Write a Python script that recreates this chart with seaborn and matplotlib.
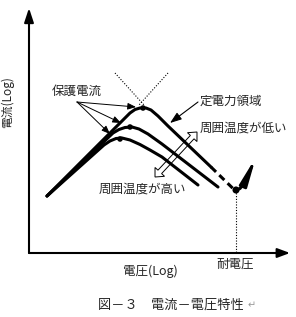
import numpy as np
import pandas as pd
import matplotlib
matplotlib.use("Agg")
import matplotlib.pyplot as plt
from matplotlib.patches import Polygon
import seaborn as sns

# I-V curves (x = log V, y = log I, arbitrary units)
top_x = [18, 101, 106, 111, 117, 122, 129, 139, 182]
top_y = [57, 140, 143.5, 145, 145, 143, 137, 127, 86]
mid_x = [18, 84, 90, 96, 103, 110, 119, 133, 189]
mid_y = [57, 120, 123.5, 125.5, 126, 124, 119, 109, 66]
low_x = [18, 75, 81, 87, 93, 101, 111, 121, 133, 169]
low_y = [57, 108, 112, 114.5, 115, 113, 108.5, 103, 96, 68]

# dashed part running into breakdown
brk_x = [182, 204, 207, 211, 217]
brk_y = [86, 64.5, 63, 64.5, 72]
brk_arrow_x = [216, 227]
brk_arrow_y = [71, 96]

# protection current points (peaks) and breakdown voltage point
peak_x = [114, 101, 91]
peak_y = [145, 126, 114]
vb_x = 207
vb_y = 63

# asymptotes crossing above the top peak
asym1_x = [86, 115]
asym1_y = [180, 148]
asym2_x = [139, 110]
asym2_y = [180, 148]

# leaders
guard_tip_x = [107, 92, 81]
guard_tip_y = [146, 130, 119]

FONT = ['Noto Sans CJK JP', 'DejaVu Sans']


def hollow_double_arrow(ax, p0, p1, shaft=2.5, head_w=6.5, head_l=7):
    p0, p1 = np.array(p0, float), np.array(p1, float)
    u = (p1 - p0) / np.linalg.norm(p1 - p0)
    n = np.array([-u[1], u[0]])
    a = p0 + u * head_l
    b = p1 - u * head_l
    pts = [p0, a + n * head_w, a + n * shaft, b + n * shaft, b + n * head_w,
           p1, b - n * head_w, b - n * shaft, a - n * shaft, a - n * head_w]
    ax.add_patch(Polygon(pts, closed=True, fc='none', ec='black', lw=0.7, zorder=5))


def main():
    sns.set_style("white")
    plt.rcParams['font.family'] = FONT

    W, H = 296, 317
    fig = plt.figure(figsize=(W / 100, H / 100), dpi=100)
    ax = fig.add_axes([29 / W, (H - 253) / H, (290 - 29) / W, (253 - 8) / H])
    ax.set_xlim(0, 261)
    ax.set_ylim(0, 245)
    ax.axis('off')

    # axes with arrow heads
    ax.annotate('', xy=(261, 0), xytext=(0, 0), annotation_clip=False,
                arrowprops=dict(arrowstyle='-|>,head_length=0.75,head_width=0.28',
                                color='black', lw=1.5, shrinkA=0, shrinkB=0, mutation_scale=10))
    ax.annotate('', xy=(0, 245), xytext=(0, 0), annotation_clip=False,
                arrowprops=dict(arrowstyle='-|>,head_length=0.85,head_width=0.28',
                                color='black', lw=1.5, shrinkA=0, shrinkB=0, mutation_scale=10))

    curves = pd.concat([
        pd.DataFrame({'V': top_x, 'I': top_y, 'curve': 'low'}),
        pd.DataFrame({'V': mid_x, 'I': mid_y, 'curve': 'mid'}),
        pd.DataFrame({'V': low_x, 'I': low_y, 'curve': 'high'}),
    ])
    sns.lineplot(data=curves, x='V', y='I', units='curve', estimator=None, sort=False,
                 color='black', lw=2.2, ax=ax, legend=False)

    sns.lineplot(x=brk_x, y=brk_y, sort=False, color='black', lw=2.2, ax=ax)
    ax.lines[-1].set_dashes([2.3, 1.5])
    ax.annotate('', xy=(brk_arrow_x[1], brk_arrow_y[1]), xytext=(brk_arrow_x[0], brk_arrow_y[0]),
                arrowprops=dict(arrowstyle='-|>,head_length=1.6,head_width=0.22',
                                color='black', lw=2, shrinkA=0, shrinkB=0, mutation_scale=10))

    sns.scatterplot(x=peak_x, y=peak_y, color='black', s=16, edgecolor='none', ax=ax, zorder=4)
    sns.scatterplot(x=[vb_x], y=[vb_y], color='black', s=26, edgecolor='none', ax=ax, zorder=4)

    # dotted guides
    ax.plot(asym1_x, asym1_y, color='black', lw=0.8, ls=(0, (1, 1.5)))
    ax.plot(asym2_x, asym2_y, color='black', lw=0.8, ls=(0, (1, 1.5)))
    ax.plot([vb_x, vb_x], [vb_y, 0], color='black', lw=0.8, ls=(0, (1, 1.5)))

    # 保護電流 leaders
    for tx, ty in zip(guard_tip_x, guard_tip_y):
        ax.annotate('', xy=(tx, ty), xytext=(48, 151),
                    arrowprops=dict(arrowstyle='-|>,head_length=0.5,head_width=0.2',
                                    color='black', lw=0.7, shrinkA=0, shrinkB=0, mutation_scale=10))
    ax.text(48, 162, '保護電流', ha='center', va='center', fontsize=9)

    # 定電力領域 leader
    ax.annotate('', xy=(141, 130), xytext=(169, 151),
                arrowprops=dict(arrowstyle='-|>,head_length=0.7,head_width=0.25',
                                color='black', lw=0.8, shrinkA=0, shrinkB=0, mutation_scale=10))
    ax.text(202, 152, '定電力領域', ha='center', va='center', fontsize=9, clip_on=False)

    hollow_double_arrow(ax, (126, 76), (168, 121))
    ax.text(214, 125, '周囲温度が低い', ha='center', va='center', fontsize=9, clip_on=False)
    ax.text(113, 64, '周囲温度が高い', ha='center', va='center', fontsize=9)

    # labels outside the plot
    fig.text(7 / W, 1 - 102 / H, '電流(Log)', rotation=90, ha='center', va='center', fontsize=8.5)
    fig.text(150 / W, 1 - 271 / H, '電圧(Log)', ha='center', va='center', fontsize=9)
    fig.text(235 / W, 1 - 264 / H, '耐電圧', ha='center', va='center', fontsize=9)
    fig.text(171 / W, 1 - 305 / H, '図－３　電流－電圧特性', ha='center', va='center', fontsize=9.5)
    fig.text(248 / W, 1 - 305 / H, '↵', ha='left', va='center', fontsize=7, color='#999999')

    fig.savefig('out.png', dpi=100)


if __name__ == "__main__":
    main()
